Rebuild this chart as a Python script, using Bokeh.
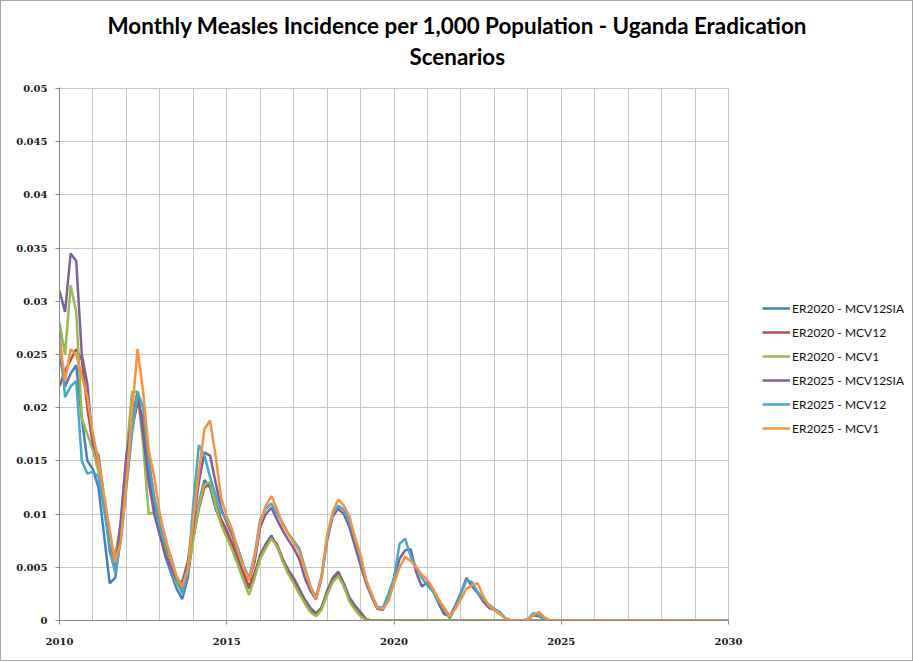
from bokeh.plotting import figure
from bokeh.models import Legend, LegendItem, Title, FixedTicker, LinearAxis, Grid
from bokeh.embed import file_html
from bokeh.resources import INLINE

title_line1 = "Monthly Measles Incidence per 1,000 Population - Uganda Eradication"
title_line2 = "Scenarios"

series_names = [
    "ER2020 - MCV12SIA",
    "ER2020 - MCV12",
    "ER2020 - MCV1",
    "ER2025 - MCV12SIA",
    "ER2025 - MCV12",
    "ER2025 - MCV1",
]
series_colors = ["#4A7EBB", "#BE4B48", "#98B954", "#7D60A0", "#46AAC5", "#F69240"]

# sample times: every two months from 2010.0 to 2025.0, then the end of the horizon (2030)
months = [2010 + i / 6 for i in range(91)] + [2030]

x_ticks = [2010, 2015, 2020, 2025, 2030]
x_grid_years = list(range(2010, 2031))
y_ticks = [0, 0.005, 0.01, 0.015, 0.02, 0.025, 0.03, 0.035, 0.04, 0.045, 0.05]
y_tick_labels = ["0", "0.005", "0.01", "0.015", "0.02", "0.025", "0.03", "0.035", "0.04", "0.045", "0.05"]

er2020_mcv12sia = [
    0.0250, 0.0220, 0.0232, 0.0240, 0.0190, 0.0150,
    0.0142, 0.0125, 0.0080, 0.0035, 0.0040, 0.0080,
    0.0140, 0.0185, 0.0210, 0.0185, 0.0140, 0.0108,
    0.0082, 0.0060, 0.0045, 0.0030, 0.0020, 0.0040,
    0.0080, 0.0110, 0.0132, 0.0125, 0.0105, 0.0092,
    0.0082, 0.0070, 0.0055, 0.0040, 0.0030, 0.0042,
    0.0062, 0.0072, 0.0080, 0.0070, 0.0058, 0.0048,
    0.0040, 0.0030, 0.0020, 0.0012, 0.0007, 0.0012,
    0.0028, 0.0040, 0.0046, 0.0035, 0.0022, 0.0014,
    0.0008, 0.0001, 0.0, 0.0, 0.0, 0.0,
    0.0, 0.0, 0.0, 0.0, 0.0, 0.0,
    0.0, 0.0, 0.0, 0.0, 0.0, 0.0,
    0.0, 0.0, 0.0, 0.0, 0.0, 0.0,
    0.0, 0.0, 0.0, 0.0, 0.0, 0.0,
    0.0, 0.0, 0.0, 0.0, 0.0, 0.0,
    0.0, 0.0,
]
er2020_mcv12 = [
    0.0220, 0.0235, 0.0245, 0.0255, 0.0245, 0.0200,
    0.0165, 0.0145, 0.0110, 0.0075, 0.0055, 0.0085,
    0.0140, 0.0180, 0.0205, 0.0190, 0.0150, 0.0115,
    0.0090, 0.0068, 0.0050, 0.0038, 0.0030, 0.0045,
    0.0078, 0.0105, 0.0125, 0.0128, 0.0110, 0.0095,
    0.0085, 0.0072, 0.0058, 0.0044, 0.0032, 0.0045,
    0.0060, 0.0070, 0.0078, 0.0072, 0.0058, 0.0046,
    0.0038, 0.0028, 0.0018, 0.0010, 0.0005, 0.0012,
    0.0026, 0.0038, 0.0044, 0.0034, 0.0020, 0.0012,
    0.0006, 0.0001, 0.0, 0.0, 0.0, 0.0,
    0.0, 0.0, 0.0, 0.0, 0.0, 0.0,
    0.0, 0.0, 0.0, 0.0, 0.0, 0.0,
    0.0, 0.0, 0.0, 0.0, 0.0, 0.0,
    0.0, 0.0, 0.0, 0.0, 0.0, 0.0,
    0.0, 0.0, 0.0, 0.0, 0.0, 0.0,
    0.0, 0.0,
]
er2020_mcv1 = [
    0.0280, 0.0250, 0.0315, 0.0290, 0.0190, 0.0175,
    0.0160, 0.0140, 0.0105, 0.0075, 0.0062, 0.0090,
    0.0155, 0.0215, 0.0215, 0.0165, 0.0100, 0.0102,
    0.0085, 0.0065, 0.0050, 0.0035, 0.0028, 0.0045,
    0.0075, 0.0108, 0.0128, 0.0130, 0.0108, 0.0090,
    0.0078, 0.0066, 0.0052, 0.0038, 0.0024, 0.0040,
    0.0058, 0.0068, 0.0077, 0.0070, 0.0056, 0.0044,
    0.0035, 0.0025, 0.0016, 0.0008, 0.0004, 0.0010,
    0.0024, 0.0036, 0.0042, 0.0032, 0.0018, 0.0010,
    0.0004, 0.0, 0.0, 0.0, 0.0, 0.0,
    0.0, 0.0, 0.0, 0.0, 0.0, 0.0,
    0.0, 0.0, 0.0, 0.0, 0.0, 0.0,
    0.0, 0.0, 0.0, 0.0, 0.0, 0.0,
    0.0, 0.0, 0.0, 0.0, 0.0, 0.0,
    0.0, 0.0, 0.0, 0.0, 0.0, 0.0,
    0.0, 0.0,
]
er2025_mcv12sia = [
    0.0310, 0.0290, 0.0345, 0.0338, 0.0250, 0.0222,
    0.0165, 0.0155, 0.0115, 0.0065, 0.0047, 0.0095,
    0.0155, 0.0190, 0.0215, 0.0175, 0.0130, 0.0100,
    0.0080, 0.0062, 0.0050, 0.0038, 0.0036, 0.0055,
    0.0090, 0.0130, 0.0158, 0.0155, 0.0130, 0.0105,
    0.0092, 0.0080, 0.0062, 0.0048, 0.0038, 0.0055,
    0.0088, 0.0100, 0.0106, 0.0095, 0.0085, 0.0076,
    0.0068, 0.0058, 0.0040, 0.0028, 0.0020, 0.0040,
    0.0075, 0.0098, 0.0105, 0.0100, 0.0088, 0.0070,
    0.0052, 0.0035, 0.0022, 0.0011, 0.0010, 0.0020,
    0.0040, 0.0058, 0.0066, 0.0067, 0.0045, 0.0032,
    0.0036, 0.0028, 0.0016, 0.0006, 0.0004, 0.0014,
    0.0026, 0.0040, 0.0032, 0.0026, 0.0018, 0.0012,
    0.0010, 0.0006, 0.0002, 0.0, 0.0, 0.0,
    0.0001, 0.0005, 0.0004, 0.0001, 0.0, 0.0,
    0.0, 0.0,
]
er2025_mcv12 = [
    0.0270, 0.0210, 0.0220, 0.0225, 0.0150, 0.0138,
    0.0140, 0.0135, 0.0105, 0.0068, 0.0045, 0.0075,
    0.0125, 0.0175, 0.0215, 0.0200, 0.0150, 0.0115,
    0.0090, 0.0072, 0.0060, 0.0040, 0.0025, 0.0045,
    0.0110, 0.0165, 0.0155, 0.0135, 0.0118, 0.0102,
    0.0095, 0.0082, 0.0068, 0.0052, 0.0040, 0.0062,
    0.0095, 0.0105, 0.0110, 0.0100, 0.0092, 0.0082,
    0.0075, 0.0068, 0.0050, 0.0032, 0.0022, 0.0042,
    0.0078, 0.0100, 0.0108, 0.0104, 0.0092, 0.0078,
    0.0058, 0.0038, 0.0024, 0.0013, 0.0012, 0.0025,
    0.0040, 0.0072, 0.0077, 0.0060, 0.0050, 0.0040,
    0.0033, 0.0027, 0.0018, 0.0010, 0.0002, 0.0012,
    0.0025, 0.0038, 0.0036, 0.0027, 0.0020, 0.0015,
    0.0011, 0.0008, 0.0002, 0.0, 0.0, 0.0,
    0.0001, 0.0007, 0.0005, 0.0001, 0.0, 0.0,
    0.0, 0.0,
]
er2025_mcv1 = [
    0.0265, 0.0225, 0.0255, 0.0250, 0.0230, 0.0210,
    0.0175, 0.0150, 0.0118, 0.0085, 0.0055, 0.0075,
    0.0130, 0.0195, 0.0255, 0.0215, 0.0160, 0.0135,
    0.0100, 0.0078, 0.0058, 0.0042, 0.0032, 0.0048,
    0.0095, 0.0140, 0.0180, 0.0188, 0.0155, 0.0115,
    0.0098, 0.0085, 0.0065, 0.0050, 0.0038, 0.0060,
    0.0092, 0.0108, 0.0117, 0.0105, 0.0090, 0.0082,
    0.0073, 0.0065, 0.0048, 0.0032, 0.0020, 0.0040,
    0.0080, 0.0102, 0.0114, 0.0108, 0.0098, 0.0078,
    0.0062, 0.0038, 0.0025, 0.0012, 0.0011, 0.0018,
    0.0035, 0.0050, 0.0060, 0.0056, 0.0050, 0.0043,
    0.0038, 0.0030, 0.0020, 0.0012, 0.0004, 0.0011,
    0.0020, 0.0030, 0.0033, 0.0035, 0.0023, 0.0014,
    0.0010, 0.0006, 0.0002, 0.0, 0.0, 0.0,
    0.0001, 0.0005, 0.0008, 0.0003, 0.0, 0.0,
    0.0, 0.0,
]

series_values = [er2020_mcv12sia, er2020_mcv12, er2020_mcv1,
                 er2025_mcv12sia, er2025_mcv12, er2025_mcv1]

GRID = "#c6c6c6"
HAS_CROSS = "cross_bounds" in Grid.properties()
HAS_PAD = "padding" in Title.properties()

common = dict(output_backend="svg", toolbar_location=None,
              min_border_left=58, background_fill_color="white",
              border_fill_color="white")

if HAS_CROSS:
    # frame extends under the legend; axis line and grid lines bounded to 2010-2030
    frame_w = 853
    x_end = 2010 + frame_w * 20 / 669
    p = figure(frame_width=frame_w, frame_height=533,
               x_range=(2010, x_end), y_range=(0, 0.0501),
               min_border_right=0, min_border_top=86, min_border_bottom=40, **common)
    p.outline_line_color = None
    p.ygrid.cross_bounds = (2010, 2030)
    p.xaxis.bounds = (2010, 2030)
else:
    p = figure(frame_width=669, frame_height=531,
               x_range=(2010, 2030), y_range=(0, 0.05),
               min_border_right=0, min_border_top=87, min_border_bottom=41, **common)
    p.outline_line_color = GRID

p.styles = {"border": "1px solid #a6a6a6"}

# grid
p.xgrid.ticker = FixedTicker(ticks=x_grid_years)
p.ygrid.ticker = FixedTicker(ticks=y_ticks)
p.xgrid.grid_line_color = GRID
p.ygrid.grid_line_color = GRID

# axes
p.xaxis.ticker = FixedTicker(ticks=x_ticks)
p.yaxis.ticker = FixedTicker(ticks=y_ticks)
p.yaxis.major_label_overrides = {t: s for t, s in zip(y_ticks, y_tick_labels)}
for ax in (p.xaxis[0], p.yaxis[0]):
    ax.axis_line_color = "#8a8a8a"
    ax.major_tick_line_color = "#8a8a8a"
    ax.minor_tick_line_color = None
    ax.major_tick_in = 0
    ax.major_tick_out = 4
    ax.major_label_text_font = "DejaVu Serif"
    ax.major_label_text_font_style = "bold"
    ax.major_label_text_font_size = "10px"
    ax.major_label_text_color = "#1a1a1a"
p.xaxis.major_label_standoff = 13
p.yaxis.major_label_standoff = 8

items = []
if not HAS_CROSS:
    pad_r = p.line(x=[], y=[], line_alpha=0)
    items.append(LegendItem(label="", renderers=[pad_r]))
for name, color, vals in zip(series_names, series_colors, series_values):
    r = p.line(months, vals, line_color=color, line_width=2.5)
    items.append(LegendItem(label=name, renderers=[r]))

legend_style = dict(
    glyph_width=28, glyph_height=20, label_height=20, spacing=4,
    label_standoff=2, padding=0,
    border_line_color=None, background_fill_alpha=0,
    label_text_font="Lato", label_text_font_size="12px", label_text_color="#111111",
)
if HAS_CROSS:
    legend = Legend(items=items, location=(703, 182), margin=0, **legend_style)
    p.add_layout(legend)
else:
    legend = Legend(items=items, location="center_left", margin=22, **legend_style)
    p.add_layout(legend, "right")

# title: two centred lines above the frame
title_style = dict(align="left", standoff=2, text_font="Lato", text_font_style="bold",
                   text_font_size="22.4px", text_color="#000000")
if HAS_PAD:
    t2 = Title(text=title_line2, offset=350,
               padding=dict(left=0, right=0, top=0, bottom=17), **title_style)
else:
    spacer = LinearAxis(ticker=FixedTicker(ticks=[2033]), axis_line_color=None,
                        major_tick_line_color=None, minor_tick_line_color=None,
                        major_tick_in=0, major_tick_out=17, major_label_standoff=0,
                        major_label_overrides={2033: ""})
    p.add_layout(spacer, "above")
    t2 = Title(text=title_line2, offset=350, **title_style)
p.add_layout(t2, "above")
t1 = Title(text=title_line1, offset=48, **title_style)
p.add_layout(t1, "above")

open("out.html", "w").write(file_html(p, INLINE))
